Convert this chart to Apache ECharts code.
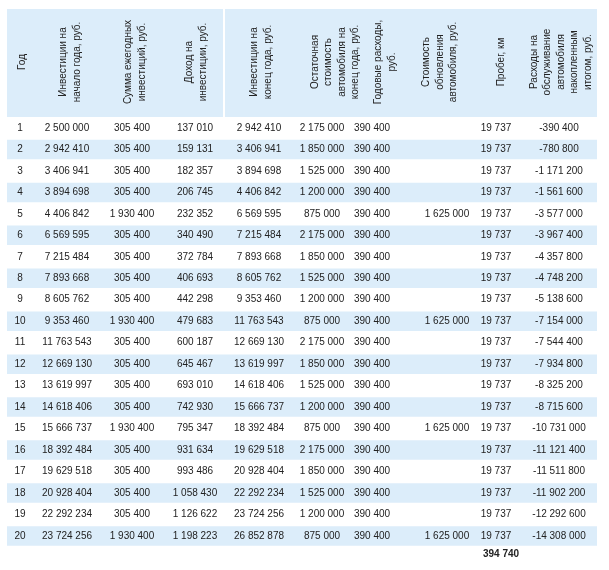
<!DOCTYPE html>
<html>
<head>
<meta charset="utf-8">
<script src="https://cdn.jsdelivr.net/npm/echarts@6/dist/echarts.min.js"></script>
<style>
html,body{margin:0;padding:0;background:#fff;}
#chart{width:609px;height:570px;}
</style>
</head>
<body>
<div id="chart"></div>
<script>
// ---------- DATA ----------
const headers = [
  'Год',
  'Инвестиции на\nначало года, руб.',
  'Сумма ежегодных\nинвестиций, руб.',
  'Доход на\nинвестиции, руб.',
  'Инвестиции на\nконец года, руб.',
  'Остаточная\nстоимость\nавтомобиля на\nконец года, руб.',
  'Годовые расходы,\nруб.',
  'Стоимость\nобновления\nавтомобиля, руб.',
  'Пробег, км',
  'Расходы на\nобслуживание\nавтомобиля\nнакопленным\nитогом, руб.'
];
const years = [1,2,3,4,5,6,7,8,9,10,11,12,13,14,15,16,17,18,19,20];
const investStart = [2500000,2942410,3406941,3894698,4406842,6569595,7215484,7893668,8605762,9353460,11763543,12669130,13619997,14618406,15666737,18392484,19629518,20928404,22292234,23724256];
const annualInvest = [305400,305400,305400,305400,1930400,305400,305400,305400,305400,1930400,305400,305400,305400,305400,1930400,305400,305400,305400,305400,1930400];
const income = [137010,159131,182357,206745,232352,340490,372784,406693,442298,479683,600187,645467,693010,742930,795347,931634,993486,1058430,1126622,1198223];
const investEnd = [2942410,3406941,3894698,4406842,6569595,7215484,7893668,8605762,9353460,11763543,12669130,13619997,14618406,15666737,18392484,19629518,20928404,22292234,23724256,26852878];
const residual = [2175000,1850000,1525000,1200000,875000,2175000,1850000,1525000,1200000,875000,2175000,1850000,1525000,1200000,875000,2175000,1850000,1525000,1200000,875000];
const annualCost = [390400,390400,390400,390400,390400,390400,390400,390400,390400,390400,390400,390400,390400,390400,390400,390400,390400,390400,390400,390400];
const renewal = [null,null,null,null,1625000,null,null,null,null,1625000,null,null,null,null,1625000,null,null,null,null,1625000];
const mileage = [19737,19737,19737,19737,19737,19737,19737,19737,19737,19737,19737,19737,19737,19737,19737,19737,19737,19737,19737,19737];
const maintCum = [-390400,-780800,-1171200,-1561600,-3577000,-3967400,-4357800,-4748200,-5138600,-7154000,-7544400,-7934800,-8325200,-8715600,-10731000,-11121400,-11511800,-11902200,-12292600,-14308000];
const mileageTotal = 394740;

// ---------- LAYOUT (table units = px from table's left edge) ----------
const tableWidth = 590;
const bodyCenters = [13, 60, 125, 188, 252, 315, 365, 440, 489, 552];
const headerCenters = [15, 63, 128, 189, 254, 328, 378, 433, 494, 554];
const headerSegments = [[0, 216], [218, 590]];
const blue = '#dcedfa';
const textColor = '#222';
const fontFamily = '"Liberation Sans", Arial, sans-serif';

function fmt(v) {
  if (v === null || v === undefined) return '';
  const neg = v < 0;
  const s = String(Math.abs(v)).replace(/\B(?=(\d{3})+(?!\d))/g, ' ');
  return (neg ? '-' : '') + s;
}

const columns = [years, investStart, annualInvest, income, investEnd, residual, annualCost, renewal, mileage, maintCum];
const rowCats = years.map(String).concat(['total']);

const cellData = [];
columns.forEach((col, ci) => {
  col.forEach((v, ri) => {
    const t = ci === 0 ? String(v) : fmt(v);
    if (t !== '') cellData.push([bodyCenters[ci], ri, t, 0]);
  });
});
cellData.push([bodyCenters[8] + 5, 20, fmt(mileageTotal), 1]);

const bandData = years.map((y, i) => i).filter(i => i % 2 === 1).map(i => [0, i]);
const headerData = headers.map((h, i) => [headerCenters[i], 0, h]);

const chart = echarts.init(document.getElementById('chart'), null, {renderer: 'canvas'});
const option = {
  animation: false,
  grid: [
    {left: 7, width: tableWidth, top: 9, height: 108},
    {left: 7, width: tableWidth, top: 117.25, height: 21.47 * 21}
  ],
  xAxis: [
    {gridIndex: 0, type: 'value', min: 0, max: tableWidth, show: false},
    {gridIndex: 1, type: 'value', min: 0, max: tableWidth, show: false}
  ],
  yAxis: [
    {gridIndex: 0, type: 'category', data: ['header'], show: false},
    {gridIndex: 1, type: 'category', data: rowCats, inverse: true, show: false}
  ],
  series: [
    {
      type: 'custom', xAxisIndex: 0, yAxisIndex: 0, clip: false, silent: true,
      data: headerSegments.map(s => [s[0], 0, s[1]]),
      renderItem: (params, api) => {
        const p0 = api.coord([api.value(0), 0]);
        const p1 = api.coord([api.value(2), 0]);
        const h = api.size([0, 1])[1];
        return {type: 'rect', shape: {x: p0[0], y: p0[1] - h / 2, width: p1[0] - p0[0], height: h}, style: {fill: blue}};
      }
    },
    {
      type: 'custom', xAxisIndex: 0, yAxisIndex: 0, clip: false, silent: true,
      data: headerData,
      renderItem: (params, api) => {
        const p = api.coord([api.value(0), 0]);
        return {
          type: 'text', x: p[0], y: p[1] - 1, rotation: Math.PI / 2,
          style: {text: headerData[params.dataIndex][2], align: 'center', verticalAlign: 'middle',
                  fontSize: 10, lineHeight: 13.5, fontFamily: fontFamily, fill: textColor}
        };
      }
    },
    {
      type: 'custom', xAxisIndex: 1, yAxisIndex: 1, clip: false, silent: true,
      data: bandData,
      renderItem: (params, api) => {
        const p0 = api.coord([0, api.value(1)]);
        const p1 = api.coord([tableWidth, api.value(1)]);
        const h = api.size([0, 1])[1] - 2;
        return {type: 'rect', shape: {x: p0[0], y: p0[1] - h / 2, width: p1[0] - p0[0], height: h}, style: {fill: blue}};
      }
    },
    {
      type: 'custom', xAxisIndex: 1, yAxisIndex: 1, clip: false, silent: true,
      data: cellData,
      renderItem: (params, api) => {
        const d = cellData[params.dataIndex];
        const p = api.coord([d[0], d[1]]);
        return {
          type: 'text', x: p[0], y: p[1] - (d[3] ? 3 : 0),
          style: {text: d[2], align: 'center', verticalAlign: 'middle', fontSize: 10,
                  fontWeight: d[3] ? 'bold' : 'normal', fontFamily: fontFamily, fill: textColor}
        };
      }
    }
  ]
};
chart.setOption(option);
</script>
</body>
</html>
